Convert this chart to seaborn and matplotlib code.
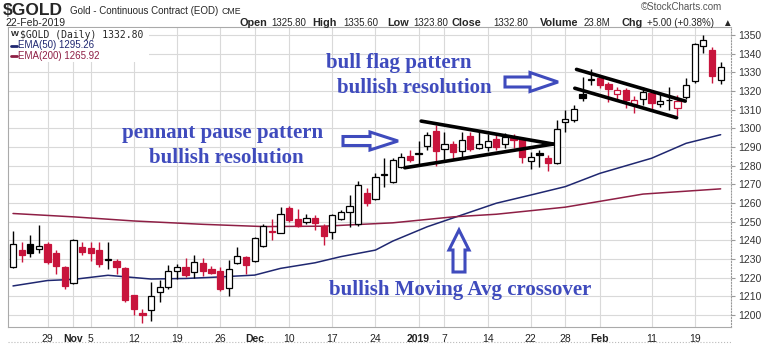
import matplotlib
matplotlib.use("Agg")
import matplotlib.pyplot as plt
import matplotlib.patches as mpatches
from matplotlib.lines import Line2D
import seaborn as sns
import numpy as np
import pandas as pd

# daily candles, trading-day index 0 = 23-Oct-2018 ... 82 = 22-Feb-2019
opens = [1226.0, 1235.0, 1238.0, 1235.5, 1238.0, 1233.5, 1225.5, 1217.0, 1236.3, 1235.7,
         1234.8, 1229.6, 1229.0, 1225.0, 1210.7, 1201.3, 1202.7, 1212.2, 1214.8, 1223.6,
         1225.6, 1223.0, 1227.7, 1224.7, 1223.8, 1214.3, 1227.7, 1230.9, 1229.2, 1237.0,
         1245.2, 1244.1, 1257.5, 1251.4, 1249.7, 1252.2, 1247.7, 1244.3, 1251.3, 1255.0,
         1248.6, 1265.5, 1262.2, 1275.2, 1271.5, 1279.5, 1285.2, 1286.3, 1290.5, 1298.6,
         1288.8, 1291.5, 1287.9, 1296.0, 1289.3, 1289.8, 1294.5, 1291.6, 1295.0, 1294.1,
         1282.5, 1287.0, 1284.3, 1281.6, 1303.6, 1304.5, 1318.2, 1326.0, 1326.8, 1323.8,
         1318.2, 1320.5, 1313.0, 1315.6, 1319.1, 1313.0, 1315.0, 1310.7, 1317.0, 1325.5,
         1344.1, 1342.0, 1325.8]
highs = [1245.0, 1239.0, 1243.0, 1248.0, 1239.0, 1235.0, 1226.3, 1241.0, 1239.3, 1239.0,
         1239.0, 1239.3, 1230.0, 1226.0, 1211.0, 1203.0, 1217.5, 1219.0, 1227.0, 1227.3,
         1230.4, 1232.0, 1230.4, 1226.3, 1225.6, 1229.5, 1236.6, 1231.6, 1241.6, 1249.0,
         1251.3, 1257.7, 1258.4, 1256.6, 1254.0, 1253.6, 1248.8, 1254.0, 1256.3, 1264.3,
         1272.0, 1268.0, 1275.9, 1284.0, 1284.0, 1287.0, 1288.4, 1293.0, 1298.2, 1301.8,
         1298.2, 1293.2, 1298.2, 1298.2, 1298.2, 1297.0, 1296.4, 1297.7, 1297.0, 1295.5,
         1287.5, 1288.4, 1285.7, 1304.5, 1310.0, 1312.5, 1327.7, 1331.6, 1328.0, 1325.0,
         1322.3, 1321.5, 1317.3, 1322.3, 1320.5, 1319.6, 1322.3, 1317.9, 1326.8, 1345.5,
         1350.0, 1343.4, 1335.6]
lows = [1225.0, 1228.5, 1231.0, 1233.5, 1227.5, 1222.0, 1214.0, 1216.5, 1232.0, 1229.0,
        1225.6, 1224.7, 1222.0, 1207.0, 1200.0, 1196.0, 1197.0, 1207.0, 1214.0, 1219.3,
        1220.5, 1220.0, 1221.0, 1221.8, 1213.0, 1210.0, 1227.3, 1222.0, 1228.6, 1236.5,
        1240.0, 1243.8, 1250.0, 1247.0, 1248.8, 1245.6, 1237.5, 1240.6, 1250.9, 1247.3,
        1247.7, 1258.4, 1261.6, 1268.8, 1270.9, 1278.6, 1282.0, 1280.4, 1288.4, 1280.0,
        1282.0, 1283.0, 1284.8, 1288.0, 1288.8, 1288.0, 1288.4, 1289.3, 1289.3, 1281.6,
        1278.0, 1279.5, 1277.2, 1280.9, 1298.2, 1303.6, 1314.8, 1323.2, 1321.5, 1314.3,
        1315.2, 1310.7, 1308.4, 1312.5, 1310.4, 1311.3, 1309.8, 1306.6, 1315.7, 1324.5,
        1340.2, 1324.1, 1323.8]
closes = [1238.0, 1232.0, 1233.5, 1237.0, 1228.2, 1226.3, 1215.6, 1240.0, 1233.6, 1233.3,
          1227.2, 1230.0, 1226.0, 1208.0, 1203.0, 1200.2, 1210.0, 1215.2, 1223.5, 1226.0,
          1221.5, 1228.6, 1223.8, 1222.7, 1213.8, 1224.5, 1231.6, 1226.8, 1241.2, 1247.7,
          1244.5, 1254.0, 1250.9, 1247.9, 1251.8, 1249.1, 1242.5, 1253.6, 1255.0, 1258.4,
          1269.7, 1259.9, 1273.8, 1275.8, 1283.0, 1284.8, 1283.0, 1286.8, 1296.4, 1288.0,
          1291.5, 1287.5, 1293.8, 1288.8, 1291.5, 1293.2, 1290.2, 1295.5, 1293.8, 1284.5,
          1284.8, 1285.9, 1281.3, 1299.5, 1304.8, 1310.2, 1316.4, 1326.5, 1323.2, 1321.0,
          1320.5, 1315.2, 1315.0, 1319.6, 1313.4, 1314.8, 1315.4, 1314.8, 1323.2, 1345.2,
          1347.3, 1327.8, 1332.8]
close_before_first = 1230.0

# moving averages
ema50_day = [0, 4, 7, 11, 16, 20, 23, 28, 31, 35, 38, 42, 44, 48, 52, 56, 60, 64, 68, 74, 78, 82]
ema50_val = [1215.6, 1218.5, 1219.1, 1221.3, 1219.3, 1219.6, 1220.2, 1221.4, 1225.0, 1228.0, 1231.3,
             1234.8, 1239.6, 1247.3, 1253.6, 1259.9, 1264.3, 1268.8, 1275.9, 1284.0, 1292.0, 1296.6]
ema200_day = [0, 7, 14, 22, 29, 36, 44, 51, 56, 64, 73, 82]
ema200_val = [1254.4, 1252.6, 1250.4, 1248.6, 1247.4, 1247.6, 1249.4, 1252.6, 1254.0, 1257.8, 1264.8, 1267.6]

tick_day = [4, 7, 9, 14, 19, 24, 28, 32, 37, 42, 47, 50, 55, 60, 64, 68, 74, 79]
tick_lbl = ['29', 'Nov', '5', '12', '19', '26', 'Dec', '10', '17', '24', '2019', '7', '14',
            '22', '28', 'Feb', '11', '19']
bold_lbl = ['Nov', 'Dec', '2019', 'Feb']
price_ticks = list(range(1200, 1351, 10))

# pattern trend lines (day, price)
pennant_top = ([47.3, 62.6], [1303.9, 1291.6])
pennant_bot = ([45.4, 62.6], [1278.9, 1291.6])
flag_top = ([65.3, 77.9], [1331.6, 1314.6])
flag_bot = ([65.1, 76.9], [1321.5, 1305.7])

RED = '#c8143c'
BLUE = '#3f4bbd'
W, H = 764, 351

sns.set_style('white')
plt.rcParams['font.family'] = ['Liberation Sans', 'DejaVu Sans']

df = pd.DataFrame({'day': np.arange(len(opens)), 'open': opens, 'high': highs,
                   'low': lows, 'close': closes})
prev = df['close'].shift(1).fillna(close_before_first)
edge = np.where(df['close'] < prev, RED, 'black')
face = np.where(df['close'] >= df['open'], 'white', edge)
body_lo = np.minimum(df['open'], df['close'])
body_h = np.maximum((df['close'] - df['open']).abs(), 0.35)

fig = plt.figure(figsize=(W / 100, H / 100), dpi=100)
ax = fig.add_axes([8 / W, 24 / H, 723 / W, 300 / H])

for p in price_ticks:
    ax.axhline(p, color='#d9d9d9', lw=0.8, zorder=0)
for d in tick_day:
    ax.axvline(d, color='#d9d9d9', lw=0.8, zorder=0)

ax.vlines(df['day'], df['low'], df['high'], colors=edge, lw=1.0, zorder=2)
ax.bar(df['day'], body_h, bottom=body_lo, width=0.72, color=face, edgecolor=edge,
       linewidth=0.9, zorder=3)

sns.lineplot(x=ema50_day, y=ema50_val, color='#1f2770', lw=1.1, ax=ax, zorder=1)
sns.lineplot(x=ema200_day, y=ema200_val, color='#8e1f45', lw=1.1, ax=ax, zorder=1)

for xs, ys in [pennant_top, pennant_bot, flag_top, flag_bot]:
    ax.plot(xs, ys, color='black', lw=2.6, solid_capstyle='round', zorder=4)

ax.set_xlim(-0.58, 83.2)
ax.set_ylim(1193.6, 1354.3)
ax.yaxis.tick_right()
ax.set_yticks(price_ticks)
ax.set_yticklabels([str(p) for p in price_ticks])
ax.tick_params(axis='y', labelsize=7.5, labelcolor='#333333', length=3, color='#999999', pad=2, right=True)
ax.set_xticks(tick_day)
ax.set_xticklabels(tick_lbl)
ax.tick_params(axis='x', labelsize=7.5, labelcolor='#222222', length=0, pad=5)
for t in ax.get_xticklabels():
    if t.get_text() in bold_lbl:
        t.set_fontweight('bold')
for s in ['left', 'bottom', 'top']:
    ax.spines[s].set_color('#aaaaaa')
    ax.spines[s].set_linewidth(0.8)
ax.spines['right'].set_color('#999999')
ax.spines['right'].set_linestyle(':')
ax.set_xlabel('')
ax.set_ylabel('')


def pix(x, y):
    return x / W, 1 - y / H


# legend box
ax.add_patch(mpatches.Rectangle(pix(9, 62), 140 / W, 34 / H, transform=fig.transFigure,
                                facecolor='white', edgecolor='none', zorder=5))
fig.text(*pix(20, 35), '$GOLD (Daily) 1332.80', family='DejaVu Sans Mono', fontsize=7,
         va='center', zorder=6)
fig.text(*pix(11, 35), 'W', fontsize=6, fontweight='bold', va='center', zorder=6)
fig.add_artist(Line2D([11 / W, 17 / W], [1 - 45.5 / H] * 2, color='#1f2770', lw=2))
fig.text(*pix(18, 45.5), 'EMA(50) 1295.26', fontsize=7, color='#1f2770', va='center')
fig.add_artist(Line2D([11 / W, 17 / W], [1 - 56 / H] * 2, color='#8e1f45', lw=2))
fig.text(*pix(18, 56), 'EMA(200) 1265.92', fontsize=7, color='#8e1f45', va='center')

# header
fig.text(*pix(3, 10.5), '$GOLD', fontsize=12.5, fontweight='bold', va='center')
fig.text(*pix(70, 11), 'Gold - Continuous Contract (EOD)', fontsize=7.0, va='center')
fig.text(*pix(222, 11.5), 'CME', fontsize=6.3, va='center')
fig.text(*pix(5, 23.5), '22-Feb-2019', fontsize=7.5, va='center')
fig.text(*pix(722, 7), '\u00a9StockCharts.com', fontsize=7, color='#555555', ha='right', va='center')
hdr = [(239, 'Open', True), (271, '1325.80', False), (312, 'High', True), (343, '1335.60', False),
       (387, 'Low', True), (413, '1323.80', False), (452, 'Close', True), (493, '1332.80', False),
       (540, 'Volume', True), (584, '23.8M', False), (621, 'Chg', True),
       (647, '+5.00 (+0.38%)', False), (722, '\u25b2', False)]
for hx, txt, b in hdr:
    fig.text(*pix(hx, 23.5), txt, fontsize=7.8 if b else 7.0, fontweight='bold' if b else 'normal',
             va='center')

# annotations
tkw = dict(family='Liberation Serif', fontweight='bold', fontsize=15, color=BLUE,
           va='center')
fig.text(*pix(223, 133), 'pennant pause pattern', ha='center', **tkw)
fig.text(*pix(226, 158), 'bullish resolution', ha='center', **tkw)
fig.text(*pix(399, 63), 'bull flag pattern', ha='center', **tkw)
fig.text(*pix(414, 88), 'bullish resolution', ha='center', **tkw)
fig.text(*pix(460, 290), 'bullish Moving Avg crossover', ha='center', **tkw)


def right_arrow(x0, x1, yc, bh, hh, hl):
    pts = [(x0, yc - bh), (x1 - hl, yc - bh), (x1 - hl, yc - hh), (x1, yc),
           (x1 - hl, yc + hh), (x1 - hl, yc + bh), (x0, yc + bh)]
    return [pix(px, py) for px, py in pts]


def up_arrow(xc, ytip, ybase, bw, hw, hl):
    pts = [(xc - bw, ybase), (xc - bw, ytip + hl), (xc - hw, ytip + hl), (xc, ytip),
           (xc + hw, ytip + hl), (xc + bw, ytip + hl), (xc + bw, ybase)]
    return [pix(px, py) for px, py in pts]


for poly in [right_arrow(343, 398, 141, 4.5, 9, 28), right_arrow(505, 558, 82, 5, 9.5, 28),
             up_arrow(459, 230, 272, 6, 10, 20)]:
    fig.add_artist(mpatches.Polygon(poly, closed=True, fill=False, edgecolor=BLUE, lw=2.2,
                                    transform=fig.transFigure, joinstyle='miter'))

fig.add_artist(Line2D([8 / W, 731 / W], [1 - 342 / H] * 2, color='#bbbbbb', lw=0.8, ls=':'))

fig.savefig('out.png', dpi=100, facecolor='white')
